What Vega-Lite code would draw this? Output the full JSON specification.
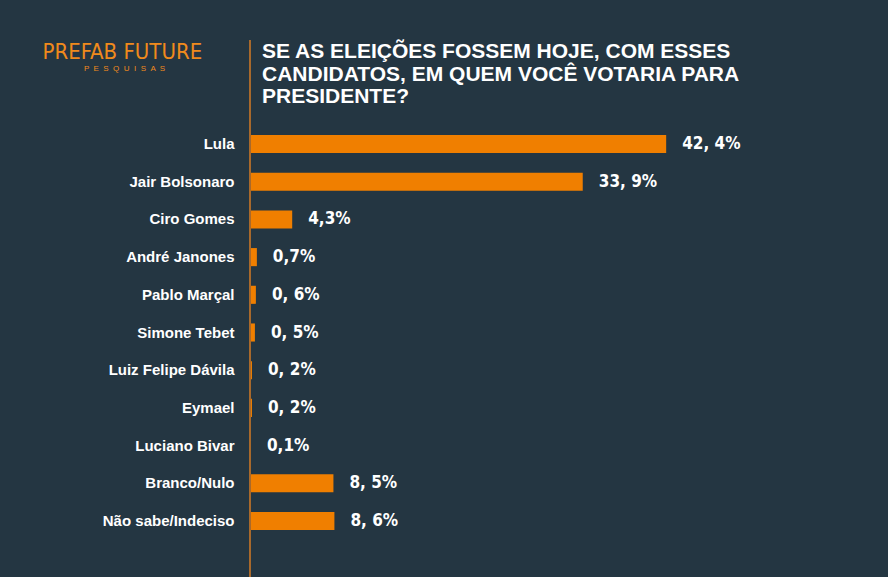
{
  "$schema": "https://vega.github.io/schema/vega-lite/v6.json",
  "width": 638,
  "height": 537,
  "autosize": "none",
  "padding": {"left": 250, "top": 40, "right": 0, "bottom": 0},
  "background": "#243642",
  "config": {"view": {"stroke": null}},
  "title": {
    "text": ["SE AS ELEIÇÕES FOSSEM HOJE, COM ESSES", "CANDIDATOS, EM QUEM VOCÊ VOTARIA PARA", "PRESIDENTE?"],
    "anchor": "start",
    "frame": "group",
    "orient": "top",
    "dx": 12,
    "offset": -68,
    "baseline": "top",
    "color": "#ffffff",
    "font": "Liberation Sans",
    "fontWeight": "bold",
    "fontSize": 21,
    "lineHeight": 22.5
  },
  "data": {
    "values": [
      {"candidato": "Lula", "valor": 42.4, "label": "42, 4%"},
      {"candidato": "Jair Bolsonaro", "valor": 33.9, "label": "33, 9%"},
      {"candidato": "Ciro Gomes", "valor": 4.3, "label": "4,3%"},
      {"candidato": "André Janones", "valor": 0.7, "label": "0,7%"},
      {"candidato": "Pablo Marçal", "valor": 0.6, "label": "0, 6%"},
      {"candidato": "Simone Tebet", "valor": 0.5, "label": "0, 5%"},
      {"candidato": "Luiz Felipe Dávila", "valor": 0.2, "label": "0, 2%"},
      {"candidato": "Eymael", "valor": 0.2, "label": "0, 2%"},
      {"candidato": "Luciano Bivar", "valor": 0.1, "label": "0,1%"},
      {"candidato": "Branco/Nulo", "valor": 8.5, "label": "8, 5%"},
      {"candidato": "Não sabe/Indeciso", "valor": 8.6, "label": "8, 6%"}
    ]
  },
  "layer": [
    {
      "mark": {"type": "bar", "color": "#f07f00"},
      "encoding": {
        "y": {
          "field": "candidato",
          "type": "nominal",
          "sort": null,
          "scale": {"range": [95, 490], "paddingInner": 0.52, "paddingOuter": 0},
          "axis": {
            "domain": false,
            "ticks": false,
            "labelColor": "#ffffff",
            "labelFont": "Liberation Sans",
            "labelFontWeight": "bold",
            "labelFontSize": 15,
            "labelPadding": 16,
            "title": "PREFAB FUTURE",
            "titleAngle": 0,
            "titleX": -208,
            "titleY": 18,
            "titleAlign": "left",
            "titleBaseline": "alphabetic",
            "titleColor": "#f08a1c",
            "titleFont": "DejaVu Sans Condensed, Liberation Sans",
            "titleFontSize": 22,
            "titleFontWeight": "normal"
          }
        },
        "x": {
          "field": "valor",
          "type": "quantitative",
          "scale": {"domain": [0, 64]},
          "axis": {
            "domain": false,
            "ticks": false,
            "labels": false,
            "grid": false,
            "title": "P \u00a0E \u00a0S \u00a0Q \u00a0U \u00a0I \u00a0S \u00a0A \u00a0S",
            "titleX": -126,
            "titleY": -509,
            "titleAlign": "center",
            "titleBaseline": "middle",
            "titleColor": "#f08a1c",
            "titleFont": "Liberation Sans",
            "titleFontSize": 8,
            "titleFontWeight": "normal"
          }
        }
      }
    },
    {
      "mark": {
        "type": "text",
        "align": "left",
        "baseline": "middle",
        "dx": 16,
        "font": "DejaVu Sans Condensed, Liberation Sans",
        "fontWeight": "bold",
        "fontSize": 17,
        "color": "#ffffff"
      },
      "encoding": {
        "y": {"field": "candidato", "type": "nominal", "sort": null},
        "x": {"field": "valor", "type": "quantitative"},
        "text": {"field": "label"}
      }
    },
    {
      "mark": {"type": "rule", "color": "#a86a2c", "strokeWidth": 1.5},
      "encoding": {
        "x": {"datum": 0, "type": "quantitative"}
      }
    }
  ]
}
